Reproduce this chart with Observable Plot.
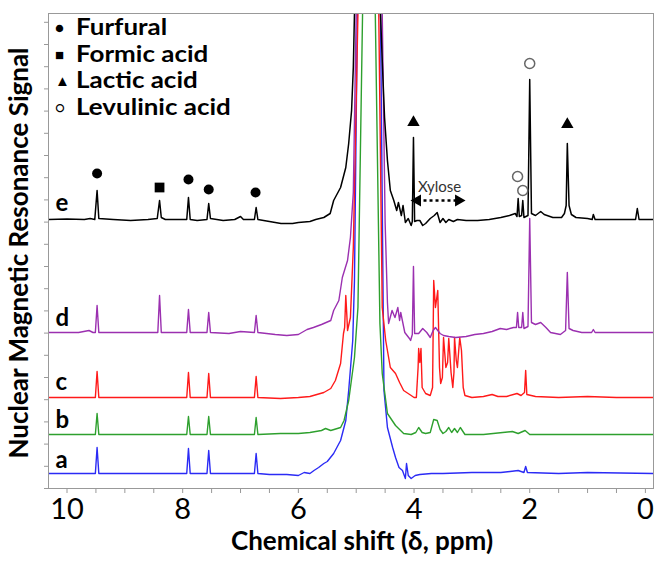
<!DOCTYPE html>
<html>
<head>
<meta charset="utf-8">
<script src="https://cdn.jsdelivr.net/npm/d3@7"></script>
<script src="https://cdn.jsdelivr.net/npm/@observablehq/plot@0.6"></script>
<style>
  body { margin: 0; background: #fff; }
  #wrap { position: relative; width: 656px; height: 562px; font-family: Lato, "Open Sans", sans-serif; }
  #legend { position: absolute; left: 0; top: 0; pointer-events: none; }
  .lg { position: absolute; font-weight: bold; font-size: 22px; line-height: 22px; color: #000; white-space: nowrap; transform: scaleX(1.18); transform-origin: 0 50%; }
  .mk { position: absolute; font-size: 15px; line-height: 15px; }
</style>
</head>
<body>
<div id="wrap"><div id="legend"></div></div>
<script>
// ---- data (ppm, intensity above the spectrum's baseline) ----
const specA = [[10.32,0],[9.51,0],[9.48,26],[9.45,0],[7.93,0],[7.90,25],[7.87,0],[7.58,0],[7.55,23],[7.52,0],[6.76,0],[6.73,20],[6.70,0],[6.5,-1],[6.2,-1],[6.0,-2],[5.9,1],[5.8,0],[5.73,3],[5.65,6],[5.56,10],[5.5,12],[5.39,20],[5.27,33],[5.18,53],[5.13,83],[5.06,133],[5.03,193],[4.98,460],[4.78,3000],[4.58,460],[4.52,83],[4.46,46],[4.37,26],[4.32,16],[4.26,6],[4.20,3],[4.15,-5],[4.13,10],[4.10,-2],[4.05,-5],[3.98,-2],[3.9,-1],[3.7,0],[3.5,0],[3.0,1],[2.5,1],[2.2,3],[2.1,1],[2.07,7],[2.04,1],[1.5,0],[1.0,1],[-0.14,0]];
const specB = [[10.32,0],[9.51,0],[9.48,21],[9.45,0],[7.93,0],[7.90,18],[7.87,0],[7.58,0],[7.55,18],[7.52,0],[6.76,0],[6.73,17],[6.70,0],[6.31,1],[6.0,1],[5.8,2],[5.6,4],[5.53,6],[5.44,4],[5.27,7],[5.21,14],[5.13,34],[5.03,77],[4.97,127],[4.89,421],[4.78,3000],[4.67,421],[4.59,111],[4.55,61],[4.46,21],[4.32,9],[4.18,1],[4.05,0],[3.97,2],[3.92,7],[3.86,2],[3.80,1],[3.72,2],[3.66,15],[3.60,14],[3.55,5],[3.50,1],[3.45,3],[3.40,7],[3.35,2],[3.30,6],[3.25,2],[3.20,7],[3.12,0],[2.8,0],[2.3,3],[2.2,1],[2.08,4],[2.0,0],[1.0,0],[-0.14,0]];
const specC = [[10.32,0],[9.51,0],[9.48,26],[9.45,0],[9.0,0],[7.93,0],[7.90,25],[7.87,0],[7.58,0],[7.55,24],[7.52,0],[6.76,0],[6.73,21],[6.70,0],[6.31,-1],[6.0,0],[5.8,1],[5.56,5],[5.44,9],[5.36,17],[5.27,34],[5.22,64],[5.20,70],[5.18,102],[5.16,80],[5.15,67],[5.10,80],[5.05,150],[4.97,384],[4.78,3000],[4.61,384],[4.55,90],[4.49,57],[4.41,30],[4.32,24],[4.25,15],[4.18,7],[4.05,2],[4.00,0],[3.96,0],[3.93,30],[3.92,49],[3.90,35],[3.88,49],[3.86,10],[3.80,4],[3.72,2],[3.68,10],[3.66,117],[3.63,90],[3.59,107],[3.56,30],[3.54,14],[3.51,20],[3.49,60],[3.45,30],[3.42,35],[3.40,59],[3.36,25],[3.33,10],[3.31,25],[3.30,60],[3.27,37],[3.25,30],[3.21,60],[3.18,47],[3.15,10],[3.12,2],[3.0,0],[2.8,1],[2.65,3],[2.55,1],[2.4,1],[2.22,4],[2.15,2],[2.09,5],[2.07,27],[2.05,3],[1.9,1],[1.5,0],[1.0,1],[0.5,0],[-0.14,0]];
const specD = [[10.32,0],[9.8,0],[9.62,2],[9.55,0],[9.51,0],[9.48,27],[9.45,0],[9.0,0],[8.6,0],[8.43,0],[8.40,37],[8.37,0],[8.0,0],[7.93,0],[7.90,23],[7.87,0],[7.58,0],[7.55,20],[7.52,0],[7.2,-1],[7.0,1],[6.76,0],[6.73,17],[6.70,0],[6.4,-2],[6.2,-3],[6.0,-2],[5.85,3],[5.74,5],[5.6,8],[5.44,12],[5.39,22],[5.30,32],[5.24,55],[5.15,72],[5.10,95],[5.05,140],[5.00,319],[4.78,3000],[4.55,319],[4.50,110],[4.46,30],[4.44,9],[4.38,22],[4.33,15],[4.28,25],[4.25,12],[4.23,20],[4.16,0],[4.08,-6],[4.06,-8],[4.03,-2],[4.01,66],[3.99,-1],[3.92,-1],[3.85,4],[3.78,0],[3.72,-5],[3.67,2],[3.63,5],[3.55,-1],[3.49,-3],[3.40,-4],[3.28,-5],[3.1,-4],[2.95,-2],[2.80,-1],[2.65,1],[2.51,4],[2.40,3],[2.28,5],[2.23,5],[2.21,20],[2.19,5],[2.14,5],[2.12,20],[2.10,4],[2.03,6],[2.00,114],[1.97,10],[1.90,8],[1.81,10],[1.72,5],[1.64,0],[1.47,-2],[1.38,2],[1.35,60],[1.32,4],[1.25,2],[1.1,0],[0.93,0],[0.9,3],[0.87,0],[0.5,0],[-0.14,0]];
const specE = [[10.32,0],[10.0,0.5],[9.7,0],[9.6,1],[9.52,0],[9.48,29],[9.45,1],[9.2,0],[8.9,-1],[8.6,0],[8.44,1],[8.40,19],[8.37,2],[8.3,0],[8.1,0],[7.93,0],[7.90,22],[7.87,0],[7.75,-1],[7.58,0],[7.55,16],[7.52,1],[7.3,-1],[7.1,0],[7.0,3],[6.95,0],[6.76,0],[6.73,12],[6.70,0],[6.5,-2],[6.3,-4],[6.1,-4],[6.0,-3],[5.8,-2],[5.7,0],[5.56,2],[5.45,6],[5.39,19],[5.27,32],[5.18,52],[5.13,76],[5.08,109],[5.05,152],[5.03,206],[4.80,3000],[4.58,206],[4.55,159],[4.51,102],[4.46,59],[4.41,29],[4.35,19],[4.30,9],[4.27,17],[4.22,4],[4.19,14],[4.15,-3],[4.10,1],[4.05,-6],[4.03,-2],[4.01,82],[3.99,-2],[3.95,-1],[3.90,-1],[3.85,-6],[3.80,-4],[3.72,1],[3.65,4],[3.60,7],[3.55,-3],[3.50,1],[3.45,-3],[3.40,0],[3.32,-2],[3.25,0],[3.1,-1],[2.9,-1],[2.7,0],[2.5,2],[2.35,4],[2.25,6],[2.22,3],[2.20,21],[2.18,3],[2.14,4],[2.12,19],[2.10,2],[2.03,4],[2.00,140],[1.97,6],[1.90,4],[1.81,8],[1.75,5],[1.6,2],[1.45,2],[1.40,6],[1.37,14],[1.35,76],[1.32,14],[1.28,5],[1.2,2],[1.0,1],[0.92,0],[0.9,5],[0.87,0],[0.5,0],[0.17,0],[0.14,11],[0.11,0],[-0.14,0]];

const sampleIds   = ["a", "b", "c", "d", "e"];
const baselines   = [15, 54, 91, 156, 269];
const labelLevels = [28, 68, 106, 170, 285];
const colors      = ["#2b2bf5", "#2ea02e", "#ff1a1a", "#9b30b0", "#000000"];
const spectraPts  = [specA, specB, specC, specD, specE];

// peak annotations (ppm, marker height)
const furfural  = [[9.48, 315], [7.90, 309], [7.55, 299], [6.74, 296]];
const formic    = [[8.40, 301]];
const lactic    = [[4.01, 366], [1.35, 364]];
const levulinic = [[2.00, 425], [2.21, 312], [2.12, 298]];

const xyloseText  = [[3.56, 301]];
const xyloseArrow = [[3.94, 3.23, 288]];

const xTicks = d3.range(0, 10.01, 0.5);
const xTickLabels = [0, 2, 4, 6, 8, 10];

const legendItems = [
  {sym: "●", text: "Furfural"},
  {sym: "■", text: "Formic acid"},
  {sym: "▲", text: "Lactic acid"},
  {sym: "○", text: "Levulinic acid"}
];

// ---- build ----
const lines = sampleIds.map((id, i) =>
  Plot.line(spectraPts[i].map(([p, v]) => ({ppm: p, y: baselines[i] + v})), {
    x: "ppm", y: "y", stroke: colors[i], strokeWidth: i === 4 ? 1.5 : 1.4, clip: true
  })
);

const chart = Plot.plot({
  width: 656,
  height: 562,
  marginLeft: 48,
  marginRight: 3,
  marginTop: 13,
  marginBottom: 74,
  style: {fontFamily: "Lato, 'Open Sans', sans-serif", background: "#fff", color: "#000"},
  x: {domain: [10.32, -0.14]},
  y: {domain: [0, 475]},
  marks: [
    Plot.axisY({ticks: d3.range(0, 476, 22.2), tickSize: 4, tickFormat: () => "", stroke: "#999", label: null}),
    Plot.axisX({ticks: xTicks, tickSize: 5, tickFormat: () => "", stroke: "#999", label: null}),
    Plot.axisX({ticks: xTickLabels, tickSize: 0, tickPadding: 10, fontSize: 29, label: null, fill: "#000"}),
    ...lines,
    Plot.frame({stroke: "#999"}),
    Plot.text(sampleIds.map((id, i) => ({id, y: labelLevels[i]})), {
      y: "y", text: "id", frameAnchor: "left", dx: 7, textAnchor: "start",
      fontSize: 24, fontWeight: "bold", fill: "#000"
    }),
    Plot.dot(furfural, {x: d => d[0], y: d => d[1], r: 5, fill: "#000", stroke: null}),
    Plot.dot(formic, {x: d => d[0], y: d => d[1], r: 5.5, symbol: "square", fill: "#000", stroke: null}),
    Plot.dot(lactic, {x: d => d[0], y: d => d[1], r: 4.6, symbol: "triangle", fill: "#000", stroke: null}),
    Plot.dot(levulinic, {x: d => d[0], y: d => d[1], r: 5, fill: "#fff", stroke: "#666", strokeWidth: 1.5}),
    Plot.text(xyloseText, {x: d => d[0], y: d => d[1], text: () => "Xylose", fontSize: 15, fill: "#333"}),
    Plot.link(xyloseArrow, {x1: d => d[0], x2: d => d[1], y1: d => d[2], y2: d => d[2], stroke: "#000", strokeWidth: 2.5, strokeDasharray: "3,3"}),
    Plot.dot(xyloseArrow, {x: d => d[0], y: d => d[2], r: 4.5, symbol: "triangle", rotate: -90, fill: "#000", stroke: null}),
    Plot.dot(xyloseArrow, {x: d => d[1], y: d => d[2], r: 4.5, symbol: "triangle", rotate: 90, fill: "#000", stroke: null}),
    Plot.text(["Chemical shift (δ, ppm)"], {frameAnchor: "bottom", dx: 11, dy: 61, fontSize: 26, fontWeight: "bold", fill: "#000"}),
    Plot.text(["Nuclear Magnetic Resonance Signal"], {frameAnchor: "left", dx: -29, dy: 2, rotate: -90, textAnchor: "middle", fontSize: 26, fontWeight: "bold", fill: "#000"})
  ]
});

const wrap = document.getElementById("wrap");
wrap.insertBefore(chart, wrap.firstChild);

// legend inside the plot frame (top-left)
const legend = document.getElementById("legend");
const rowY = [27, 53.5, 80, 106.5];
legendItems.forEach((it, i) => {
  const m = document.createElement("div");
  m.className = "mk";
  m.textContent = it.sym;
  m.style.left = "55px";
  m.style.top = (rowY[i] - 7) + "px";
  legend.appendChild(m);
  const t = document.createElement("div");
  t.className = "lg";
  t.textContent = it.text;
  t.style.left = "76px";
  t.style.top = (rowY[i] - 11) + "px";
  legend.appendChild(t);
});
</script>
</body>
</html>
